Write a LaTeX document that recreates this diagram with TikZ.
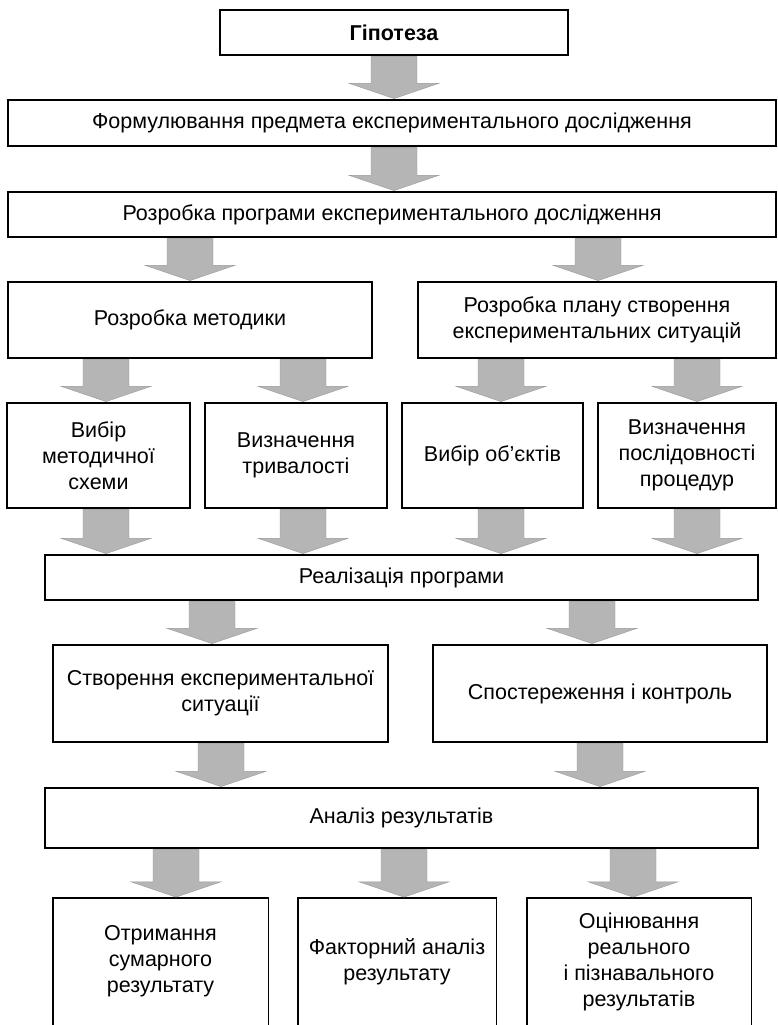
\documentclass[tikz,border=0pt]{standalone}
\usepackage{fontspec}
\setmainfont{Liberation Sans}
\usetikzlibrary{calc}

\newcommand\boxfont{\fontsize{21.5}{26}\selectfont}
% #1 = x of the arrow, #2 = upper node, #3 = lower node
\newcommand\flow[3]{%
  \path (#1,0 |- #2.south) coordinate (fs) (#1,0 |- #3.north) coordinate (ft);
  \filldraw[flow] ($(fs)+(-23,0.7)$) -- ($(ft)+(-23,-16)$) -- ($(ft)+(-45,-16)$) -- ($(ft)+(0,-0.7)$)
    -- ($(ft)+(45,-16)$) -- ($(ft)+(23,-16)$) -- ($(fs)+(23,0.7)$) -- cycle;}

\begin{document}
\begin{tikzpicture}[x=1pt,y=-1pt,
  box/.style={draw,line width=1.4pt,align=center,inner sep=0pt,font=\boxfont},
  openbox/.style={align=center,inner sep=0pt,font=\boxfont},
  flow/.style={fill=gray!58,draw=gray!80,line width=0.4pt}]
\useasboundingbox (0,0) rectangle (778,1025);
%TOP
\node (hyp) at (394,32.5) [box,minimum width=348pt,minimum height=45pt,font=\boxfont\bfseries] {Гіпотеза};
\node (subj) at (392,123) [box,minimum width=768pt,minimum height=46pt] {Формулювання предмета експериментального дослідження};
\node (prog) at (392,214.5) [box,minimum width=768pt,minimum height=45pt] {Розробка програми експериментального дослідження};

%PROGRAMME
\node (meth) at (190,320) [box,minimum width=364pt,minimum height=76pt] {Розробка методики};
\node (plan) at (597,320) [box,minimum width=358pt,minimum height=76pt] {Розробка плану створення\\експериментальних ситуацій};
\node (scheme) at (98.5,455.5) [box,minimum width=183pt,minimum height=105pt] {Вибір\\методичної\\схеми};
\node (dur) at (296,455.5) [box,minimum width=182pt,minimum height=105pt] {Визначення\\тривалості};
\node (obj) at (492.5,455.5) [box,minimum width=181pt,minimum height=105pt] {Вибір об’єктів};
\node (seq) at (687,455.5) [box,minimum width=178pt,minimum height=105pt] {Визначення\\послідовності\\процедур};

%REALISATION
\node (real) at (401.5,577.5) [box,minimum width=713pt,minimum height=45pt] {Реалізація програми};
\node (sit) at (220.5,693.5) [box,minimum width=335pt,minimum height=97pt] {Створення експериментальної\\ситуації};
\node (obs) at (600,693.5) [box,minimum width=334pt,minimum height=97pt] {Спостереження і контроль};

%ANALYSIS
\node (anal) at (401.5,818) [box,minimum width=713pt,minimum height=60pt] {Аналіз результатів};
\node (sum) at (160.5,961.5) [openbox,minimum width=215pt,minimum height=127pt] {Отримання\\сумарного\\результату};
\node (fact) at (397,961.5) [openbox,minimum width=198pt,minimum height=127pt] {Факторний аналіз\\результату};
\node (eval) at (639,961.5) [openbox,minimum width=224pt,minimum height=127pt] {Оцінювання\\реального\\і пізнавального\\результатів};
\foreach \b in {sum,fact,eval}
  \draw[line width=1.4pt] (\b.south west) -- (\b.north west) -- (\b.north east) -- (\b.south east);

%ARROWS
\flow{394}{hyp}{subj}
\flow{394}{subj}{prog}
\flow{190}{prog}{meth}
\flow{598}{prog}{plan}
\flow{106}{meth}{scheme}
\flow{303}{meth}{dur}
\flow{501}{plan}{obj}
\flow{697}{plan}{seq}
\flow{106}{scheme}{real}
\flow{303}{dur}{real}
\flow{501}{obj}{real}
\flow{697}{seq}{real}
\flow{212}{real}{sit}
\flow{592}{real}{obs}
\flow{221}{sit}{anal}
\flow{600}{obs}{anal}
\flow{176}{anal}{sum}
\flow{404}{anal}{fact}
\flow{633}{anal}{eval}
\end{tikzpicture}
\end{document}
